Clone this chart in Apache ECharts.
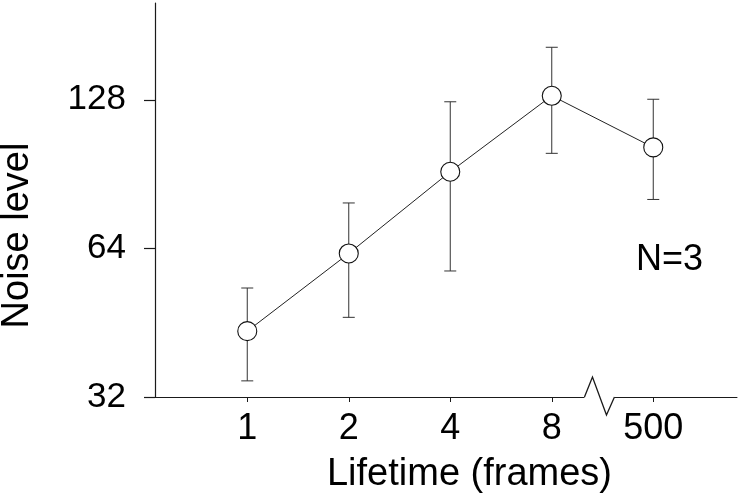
<!DOCTYPE html>
<html>
<head>
<meta charset="utf-8">
<script src="https://cdn.jsdelivr.net/npm/echarts@6/dist/echarts.min.js"></script>
<style>
  html, body { margin: 0; padding: 0; background: #fff; }
  #chart { width: 745px; height: 503px; }
</style>
</head>
<body>
<div id="chart"></div>
<script>
// lifetime categories (evenly spaced, axis broken between 8 and 500)
const categories = ['1', '2', '4', '8', '500'];
const xIndex = [0, 1, 2, 3, 4];
// noise level: mean and error bar ends
const noiseMean = [43.5, 62.5, 91.5, 130.4, 102.5];
const noiseHigh = [53.2, 79.1, 126.8, 163.5, 128.3];
const noiseLow = [34.5, 46.4, 57.6, 99.7, 80.4];
const yTicks = [32, 64, 128];
const yMin = 32, yMax = 201;
// where the axis break sits (between 8 and 500)
const breakAt = 3.47;

const font = 'Liberation Sans, Arial, Helvetica, sans-serif';
const ink = '#1a1a1a';

// y is plotted on a base-2 log scale
const lg = Math.log2;

let chart = echarts.init(document.getElementById('chart'), null, { renderer: 'canvas' });

let option = {
    backgroundColor: '#fff',
    animation: false,
    grid: {
        left: 155,
        right: 8,
        top: 3,
        bottom: 106,
        containLabel: false,
        outerBoundsMode: 'none'
    },
    xAxis: {
        type: 'value',
        min: -0.909,
        max: 4.825,
        splitLine: { show: false },
        axisLine: { onZero: false, lineStyle: { color: ink, width: 1 } },
        axisTick: {
            show: true,
            length: 5,
            customValues: xIndex,
            lineStyle: { color: ink }
        },
        axisLabel: {
            customValues: xIndex,
            margin: 14,
            fontSize: 36,
            fontFamily: font,
            color: '#000',
            formatter: function (v) { return categories[Math.round(v)]; }
        },
        name: 'Lifetime (frames)',
        nameLocation: 'middle',
        nameGap: 59,
        nameTextStyle: {
            fontSize: 38,
            fontFamily: font,
            color: '#000',
            padding: [0, 0, 0, 47]
        }
    },
    yAxis: {
        type: 'value',
        position: 'left',
        min: lg(yMin),
        max: lg(yMax),
        splitLine: { show: false },
        axisLine: { show: true, onZero: false, lineStyle: { color: ink, width: 1.2 } },
        axisTick: {
            show: true,
            length: 11,
            customValues: yTicks.map(lg),
            lineStyle: { color: ink, width: 1.2 }
        },
        axisLabel: {
            customValues: yTicks.map(lg),
            margin: 29,
            fontSize: 35,
            fontFamily: font,
            color: '#000',
            formatter: function (v) { return String(Math.round(Math.pow(2, v))); }
        },
        name: 'Noise level',
        nameLocation: 'middle',
        nameGap: 118,
        nameTextStyle: {
            fontSize: 38,
            fontFamily: font,
            color: '#000',
            padding: [0, 71, 0, 0]
        }
    },
    graphic: [{
        type: 'text',
        left: 636,
        top: 242,
        style: {
            text: 'N=3',
            font: '36px ' + font,
            fill: '#000'
        }
    }],
    series: [
        {
            // error bars
            type: 'custom',
            z: 1,
            clip: false,
            encode: { x: 0, y: [1, 2] },
            data: xIndex.map(function (x, i) { return [x, lg(noiseLow[i]), lg(noiseHigh[i])]; }),
            renderItem: function (params, api) {
                let x = api.value(0);
                let lo = api.coord([x, api.value(1)]);
                let hi = api.coord([x, api.value(2)]);
                let w = 6;
                let st = { stroke: '#333', lineWidth: 1 };
                return {
                    type: 'group',
                    children: [
                        { type: 'line', shape: { x1: lo[0], y1: lo[1], x2: hi[0], y2: hi[1] }, style: st },
                        { type: 'line', shape: { x1: hi[0] - w, y1: hi[1], x2: hi[0] + w, y2: hi[1] }, style: st },
                        { type: 'line', shape: { x1: lo[0] - w, y1: lo[1], x2: lo[0] + w, y2: lo[1] }, style: st }
                    ]
                };
            }
        },
        {
            type: 'line',
            z: 3,
            data: xIndex.map(function (x, i) { return [x, lg(noiseMean[i])]; }),
            symbol: 'circle',
            symbolSize: 19,
            showSymbol: true,
            lineStyle: { color: '#222', width: 1 },
            itemStyle: { color: '#fff', borderColor: '#111', borderWidth: 1.1 }
        },
        {
            // axis break zigzag
            type: 'custom',
            z: 5,
            clip: false,
            silent: true,
            data: [[breakAt, lg(yMin)]],
            renderItem: function (params, api) {
                let p = api.coord([api.value(0), api.value(1)]);
                return {
                    type: 'group',
                    children: [
                        { type: 'rect', shape: { x: p[0] - 15, y: p[1] - 3, width: 30, height: 6 }, style: { fill: '#fff' } },
                        {
                            type: 'polyline',
                            shape: { points: [[p[0] - 15, p[1]], [p[0] - 7, p[1] - 20], [p[0] + 7, p[1] + 18], [p[0] + 15, p[1]]] },
                            style: { stroke: ink, lineWidth: 1.3, fill: null }
                        }
                    ]
                };
            }
        }
    ]
};

chart.setOption(option);
</script>
</body>
</html>
